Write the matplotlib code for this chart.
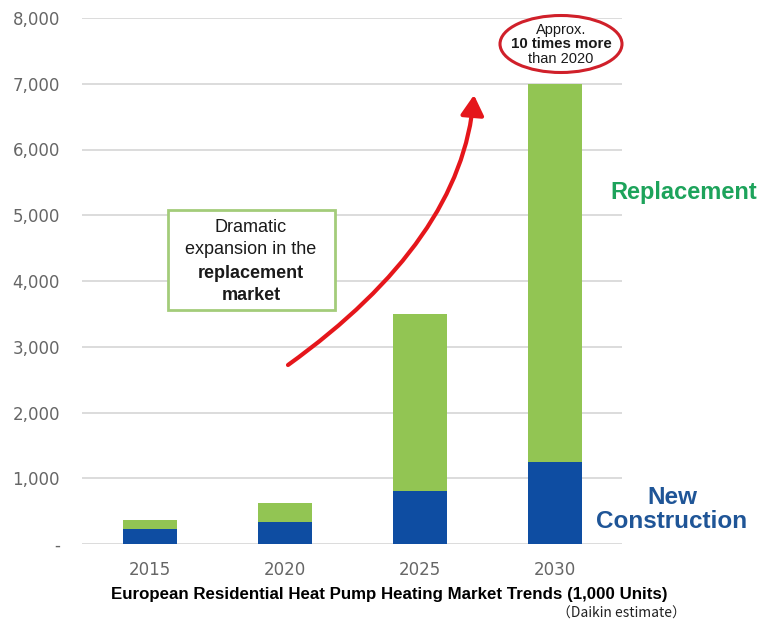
import matplotlib
matplotlib.use("Agg")
import matplotlib.pyplot as plt
from matplotlib.patches import Ellipse, FancyArrowPatch, Rectangle
from matplotlib.path import Path
from matplotlib.ticker import FuncFormatter

years = ["2015", "2020", "2025", "2030"]
new_construction = [230, 330, 800, 1250]
replacement = [135, 300, 2700, 5750]
y_ticks = [0, 1000, 2000, 3000, 4000, 5000, 6000, 7000, 8000]

GREEN = "#92C553"
BLUE = "#0E4DA2"
GREEN_TEXT = "#1DA35B"
BLUE_TEXT = "#1F5597"
GRID = "#D9D9D9"
TICK = "#666666"

W, H = 760, 624
fig = plt.figure(figsize=(W / 100, H / 100), dpi=100)
ax = fig.add_axes([82 / W, 1 - 544 / H, (622 - 82) / W, (544 - 18) / H])


def px(x, y):
    """Pixel position (from top-left) to figure fraction."""
    return x / W, 1 - y / H


x = list(range(len(years)))
ax.bar(x, new_construction, width=0.4, color=BLUE, zorder=3)
ax.bar(x, replacement, width=0.4, bottom=new_construction, color=GREEN, zorder=3)

ax.set_xlim(-0.5, 3.5)
ax.set_ylim(0, 8000)
ax.set_yticks(y_ticks)
ax.yaxis.set_major_formatter(FuncFormatter(lambda v, p: "-" if v == 0 else f"{int(v):,}"))
ax.set_xticks(x)
ax.set_xticklabels(years)
ax.tick_params(axis="both", length=0, colors=TICK, labelsize=12)
ax.tick_params(axis="y", pad=16)
ax.tick_params(axis="x", pad=12)
ax.grid(axis="y", color=GRID, linewidth=1.3, zorder=0)
ax.set_axisbelow(True)
for s in ax.spines.values():
    s.set_visible(False)
ax.patch.set_alpha(0)

# axis caption
fig.text(*px(389, 594), "European Residential Heat Pump Heating Market Trends (1,000 Units)",
         ha="center", va="center", fontsize=12.2, fontweight="bold",
         family="Liberation Sans", color="black")
fig.text(*px(621, 614), "（Daikin estimate）", ha="center", va="center", fontsize=10,
         family=["Noto Sans CJK JP", "DejaVu Sans"], color="#222222")

# series labels
fig.text(*px(684, 193), "Replacement", ha="center", va="center", fontsize=17,
         fontweight="bold", family="Liberation Sans", color=GREEN_TEXT)
fig.text(*px(672, 498), "New", ha="center", va="center", fontsize=17.5,
         fontweight="bold", family="Liberation Sans", color=BLUE_TEXT)
fig.text(*px(672, 522), "Construction", ha="center", va="center", fontsize=17.5,
         fontweight="bold", family="Liberation Sans", color=BLUE_TEXT)

# callout box
x0, y0 = px(168, 310)
x1, y1 = px(335, 210)
fig.patches.append(Rectangle((x0, y0), x1 - x0, y1 - y0, transform=fig.transFigure,
                             facecolor="white", edgecolor="#A3CC7A", linewidth=2, zorder=4))
box_lines = [("Dramatic", "normal", 227), ("expansion in the", "normal", 250),
             ("replacement", "bold", 273), ("market", "bold", 295)]
for txt, wt, yy in box_lines:
    fig.text(*px(251, yy), txt, ha="center", va="center", fontsize=13, fontweight=wt,
             family="Liberation Sans", color="#1a1a1a", zorder=5)

# growth arrow
verts = [px(288, 365), px(462, 240), px(474, 95)]
path = Path(verts, [Path.MOVETO, Path.CURVE3, Path.CURVE3])
arrow = FancyArrowPatch(path=path, transform=fig.transFigure,
                        arrowstyle="-|>,head_length=0.55,head_width=0.32",
                        mutation_scale=22, color="#E5161B", linewidth=3, zorder=6)
fig.patches.append(arrow)

# highlight ellipse
ex, ey = px(561, 44)
fig.patches.append(Ellipse((ex, ey), 122 / W, 57 / H, transform=fig.transFigure,
                           facecolor="white", edgecolor="#D0202A", linewidth=2.2, zorder=6))
fig.text(*px(561, 30), "Approx.", ha="center", va="center", fontsize=10.5,
         family="Liberation Sans", color="#1a1a1a", zorder=7)
fig.text(*px(561, 44), "10 times more", ha="center", va="center", fontsize=10.8,
         fontweight="bold", family="Liberation Sans", color="#1a1a1a", zorder=7)
fig.text(*px(561, 59), "than 2020", ha="center", va="center", fontsize=10.5,
         family="Liberation Sans", color="#1a1a1a", zorder=7)

fig.savefig("out.png", dpi=100, facecolor="white")
